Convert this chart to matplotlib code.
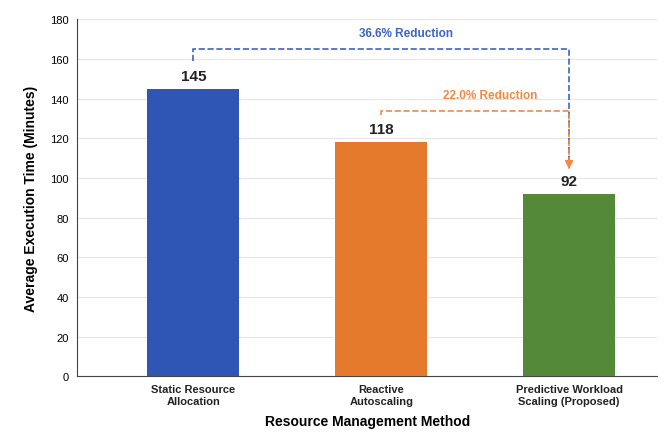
import matplotlib.pyplot as plt
import numpy as np

plt.rcParams['font.family'] = ['Liberation Sans', 'DejaVu Sans']

methods = ['Static Resource\nAllocation', 'Reactive\nAutoscaling', 'Predictive Workload\nScaling (Proposed)']
times = [145, 118, 92]
colors = ['#2f56b4', '#e5792c', '#548a37']

fig = plt.figure(figsize=(6.64, 4.35), dpi=100)
ax = fig.add_axes([0.116, 0.133, 0.874, 0.82])

x = np.arange(len(methods))
ax.bar(x, times, width=0.49, color=colors, zorder=3)

for xi, t in zip(x, times):
    ax.text(xi, t + 3, str(t), ha='center', va='bottom', fontsize=11, fontweight='bold', color='#222222')

# reduction brackets to the proposed method
red_total = (times[0] - times[2]) / times[0] * 100
red_react = (times[1] - times[2]) / times[1] * 100
tip = times[2] + 11

ax.plot([x[0], x[0], x[2], x[2]], [times[0] + 14, 165, 165, tip + 3],
        ls='--', color='#3d63c9', lw=1.2, zorder=4)
ax.plot([x[1], x[1], x[2], x[2]], [times[1] + 14, 134, 134, tip + 3],
        ls='--', color='#f08a45', lw=1.2, zorder=5)
ax.annotate('', xy=(x[2], tip), xytext=(x[2], tip + 4),
            arrowprops=dict(arrowstyle='-|>', color='#f08a45', lw=1.2, mutation_scale=12), zorder=6)

ax.text(1.13, 170, f'{red_total:.1f}% Reduction', ha='center', va='bottom',
        fontsize=8.5, fontweight='bold', color='#3d63c9')
ax.text(1.58, 139, f'{red_react:.1f}% Reduction', ha='center', va='bottom',
        fontsize=8.5, fontweight='bold', color='#f08a45')

ax.set_ylim(0, 180)
ax.set_yticks(range(0, 181, 20))
ax.set_xlim(-0.62, 2.47)
ax.set_xticks(x)
ax.set_xticklabels(methods, fontsize=8, fontweight='bold', color='#222222')
ax.tick_params(axis='y', labelsize=8, length=0, pad=6)
ax.tick_params(axis='x', length=0, pad=6)
ax.grid(axis='y', color='#e6e6e6', lw=0.8, zorder=0)
for s in ['top', 'right']:
    ax.spines[s].set_visible(False)
ax.spines['left'].set_color('#444444')
ax.spines['bottom'].set_color('#444444')

ax.set_xlabel('Resource Management Method', fontsize=10, fontweight='bold', labelpad=6)
ax.set_ylabel('Average Execution Time (Minutes)', fontsize=10, fontweight='bold', labelpad=9)

fig.savefig('out.png', dpi=100)
